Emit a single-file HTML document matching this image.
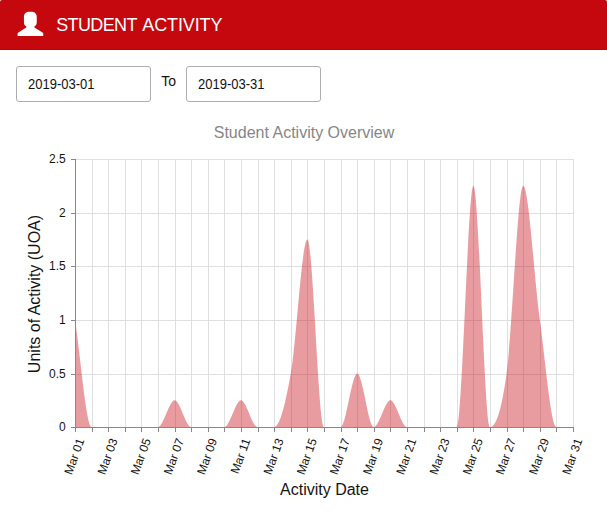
<!DOCTYPE html>
<html><head><meta charset="utf-8"><title>Student Activity</title>
<style>
html,body{margin:0;padding:0;background:#fff;}
body{width:607px;height:526px;position:relative;overflow:hidden;font-family:"Liberation Sans",sans-serif;}
.hdr{position:absolute;left:0;top:0;width:607px;height:49px;background:#c5070e;border-bottom:1px solid #ba060d;border-radius:2px 2px 0 0;}
.hdr .t{position:absolute;top:14px;color:#fff;font-size:18px;line-height:22px;white-space:nowrap;}
.hdr svg{position:absolute;left:0;top:0;}
.inp{position:absolute;top:66px;width:133px;height:34px;border:1px solid #adadad;border-radius:3px;background:#fff;}
.inp span{position:absolute;left:11px;top:10px;font-size:13px;line-height:15px;color:#111;transform:scaleY(1.09);transform-origin:0 12px;}
.to{position:absolute;left:161.2px;top:73px;font-size:14px;line-height:16px;color:#111;}
svg.chart{position:absolute;left:0;top:0;}
.tk{font-size:12px;fill:#141414;font-family:"Liberation Sans",sans-serif;}
.ax{font-size:16px;fill:#141414;font-family:"Liberation Sans",sans-serif;}
.ttl{font-size:16px;fill:#868686;font-family:"Liberation Sans",sans-serif;}
</style></head><body>
<div class="hdr">
<svg width="60" height="49" viewBox="0 0 60 49"><path d="M29 11.7 L31.7 11.7 C34.8 11.7 36.75 13.9 36.75 16.9 L36.75 22.4 C36.75 24.3 35.8 25.6 34.4 26.5 L34.4 27.6 L42.5 32.5 C43.05 32.85 43.25 33.3 43.25 34 L43.25 36 L17.6 36 L17.6 34 C17.6 33.3 17.8 32.85 18.35 32.5 L26.3 27.6 L26.3 26.5 C24.9 25.6 23.95 24.3 23.95 22.4 L23.95 16.9 C23.95 13.9 25.9 11.7 29 11.7 Z" fill="#fff"/></svg>
<div class="t" id="w1" style="left:56.2px;letter-spacing:-0.62px">STUDENT</div><div class="t" id="w2" style="left:142.3px;letter-spacing:-0.12px">ACTIVITY</div>
</div>
<div class="inp" style="left:16px"><span>2019-03-01</span></div>
<div class="to">To</div>
<div class="inp" style="left:186px"><span>2019-03-31</span></div>
<svg class="chart" width="607" height="526" viewBox="0 0 607 526" shape-rendering="crispEdges">
<g shape-rendering="crispEdges">
<line x1="75.5" y1="374.5" x2="574.0" y2="374.5" stroke="#dfdfdf"/>
<line x1="75.5" y1="320.5" x2="574.0" y2="320.5" stroke="#dfdfdf"/>
<line x1="75.5" y1="266.5" x2="574.0" y2="266.5" stroke="#dfdfdf"/>
<line x1="75.5" y1="213.5" x2="574.0" y2="213.5" stroke="#dfdfdf"/>
<line x1="75.5" y1="159.5" x2="574.0" y2="159.5" stroke="#dfdfdf"/>
<line x1="92.5" y1="159.0" x2="92.5" y2="427.5" stroke="#dfdfdf"/>
<line x1="108.5" y1="159.0" x2="108.5" y2="427.5" stroke="#dfdfdf"/>
<line x1="125.5" y1="159.0" x2="125.5" y2="427.5" stroke="#dfdfdf"/>
<line x1="141.5" y1="159.0" x2="141.5" y2="427.5" stroke="#dfdfdf"/>
<line x1="158.5" y1="159.0" x2="158.5" y2="427.5" stroke="#dfdfdf"/>
<line x1="175.5" y1="159.0" x2="175.5" y2="427.5" stroke="#dfdfdf"/>
<line x1="191.5" y1="159.0" x2="191.5" y2="427.5" stroke="#dfdfdf"/>
<line x1="208.5" y1="159.0" x2="208.5" y2="427.5" stroke="#dfdfdf"/>
<line x1="224.5" y1="159.0" x2="224.5" y2="427.5" stroke="#dfdfdf"/>
<line x1="241.5" y1="159.0" x2="241.5" y2="427.5" stroke="#dfdfdf"/>
<line x1="258.5" y1="159.0" x2="258.5" y2="427.5" stroke="#dfdfdf"/>
<line x1="274.5" y1="159.0" x2="274.5" y2="427.5" stroke="#dfdfdf"/>
<line x1="291.5" y1="159.0" x2="291.5" y2="427.5" stroke="#dfdfdf"/>
<line x1="307.5" y1="159.0" x2="307.5" y2="427.5" stroke="#dfdfdf"/>
<line x1="324.5" y1="159.0" x2="324.5" y2="427.5" stroke="#dfdfdf"/>
<line x1="341.5" y1="159.0" x2="341.5" y2="427.5" stroke="#dfdfdf"/>
<line x1="357.5" y1="159.0" x2="357.5" y2="427.5" stroke="#dfdfdf"/>
<line x1="374.5" y1="159.0" x2="374.5" y2="427.5" stroke="#dfdfdf"/>
<line x1="390.5" y1="159.0" x2="390.5" y2="427.5" stroke="#dfdfdf"/>
<line x1="407.5" y1="159.0" x2="407.5" y2="427.5" stroke="#dfdfdf"/>
<line x1="424.5" y1="159.0" x2="424.5" y2="427.5" stroke="#dfdfdf"/>
<line x1="440.5" y1="159.0" x2="440.5" y2="427.5" stroke="#dfdfdf"/>
<line x1="457.5" y1="159.0" x2="457.5" y2="427.5" stroke="#dfdfdf"/>
<line x1="473.5" y1="159.0" x2="473.5" y2="427.5" stroke="#dfdfdf"/>
<line x1="490.5" y1="159.0" x2="490.5" y2="427.5" stroke="#dfdfdf"/>
<line x1="507.5" y1="159.0" x2="507.5" y2="427.5" stroke="#dfdfdf"/>
<line x1="523.5" y1="159.0" x2="523.5" y2="427.5" stroke="#dfdfdf"/>
<line x1="540.5" y1="159.0" x2="540.5" y2="427.5" stroke="#dfdfdf"/>
<line x1="556.5" y1="159.0" x2="556.5" y2="427.5" stroke="#dfdfdf"/>
<line x1="573.5" y1="159.0" x2="573.5" y2="427.5" stroke="#dfdfdf"/>
<path shape-rendering="geometricPrecision" d="M75.00,427.00 L75.00,319.80 C80.53,355.53 86.07,427.00 91.60,427.00 C97.13,427.00 102.67,427.00 108.20,427.00 C113.73,427.00 119.27,427.00 124.80,427.00 C130.33,427.00 135.87,427.00 141.40,427.00 C146.93,427.00 152.47,427.00 158.00,427.00 C163.53,427.00 169.07,400.20 174.60,400.20 C180.13,400.20 185.67,427.00 191.20,427.00 C196.73,427.00 202.27,427.00 207.80,427.00 C213.33,427.00 218.87,427.00 224.40,427.00 C229.93,427.00 235.47,400.20 241.00,400.20 C246.53,400.20 252.07,427.00 257.60,427.00 C263.13,427.00 268.67,427.00 274.20,427.00 C279.73,427.00 285.27,404.67 290.80,373.40 C296.33,342.13 301.87,239.40 307.40,239.40 C312.93,239.40 318.47,427.00 324.00,427.00 C329.53,427.00 335.07,427.00 340.60,427.00 C346.13,427.00 351.67,373.40 357.20,373.40 C362.73,373.40 368.27,427.00 373.80,427.00 C379.33,427.00 384.87,400.20 390.40,400.20 C395.93,400.20 401.47,427.00 407.00,427.00 C412.53,427.00 418.07,427.00 423.60,427.00 C429.13,427.00 434.67,427.00 440.20,427.00 C445.73,427.00 451.27,427.00 456.80,427.00 C462.33,427.00 467.87,185.80 473.40,185.80 C478.93,185.80 484.47,427.00 490.00,427.00 C495.53,427.00 501.07,413.60 506.60,373.40 C512.13,333.20 517.67,185.80 523.20,185.80 C528.73,185.80 534.27,279.60 539.80,319.80 C545.33,360.00 550.87,427.00 556.40,427.00 C561.93,427.00 567.47,427.00 573.00,427.00 L573.00,427.00 Z" fill="rgba(198,8,15,0.4)"/>
<line x1="75.5" y1="427.5" x2="574.0" y2="427.5" stroke="#888888"/>
<line x1="71.0" y1="427.5" x2="75.5" y2="427.5" stroke="#888888"/>
<line x1="71.0" y1="374.5" x2="75.5" y2="374.5" stroke="#888888"/>
<line x1="71.0" y1="320.5" x2="75.5" y2="320.5" stroke="#888888"/>
<line x1="71.0" y1="266.5" x2="75.5" y2="266.5" stroke="#888888"/>
<line x1="71.0" y1="213.5" x2="75.5" y2="213.5" stroke="#888888"/>
<line x1="71.0" y1="159.5" x2="75.5" y2="159.5" stroke="#888888"/>
<line x1="75.5" y1="159.0" x2="75.5" y2="427.5" stroke="#888888"/>
<line x1="75.5" y1="427.5" x2="75.5" y2="432.0" stroke="#888888"/>
<line x1="92.5" y1="427.5" x2="92.5" y2="432.0" stroke="#888888"/>
<line x1="108.5" y1="427.5" x2="108.5" y2="432.0" stroke="#888888"/>
<line x1="125.5" y1="427.5" x2="125.5" y2="432.0" stroke="#888888"/>
<line x1="141.5" y1="427.5" x2="141.5" y2="432.0" stroke="#888888"/>
<line x1="158.5" y1="427.5" x2="158.5" y2="432.0" stroke="#888888"/>
<line x1="175.5" y1="427.5" x2="175.5" y2="432.0" stroke="#888888"/>
<line x1="191.5" y1="427.5" x2="191.5" y2="432.0" stroke="#888888"/>
<line x1="208.5" y1="427.5" x2="208.5" y2="432.0" stroke="#888888"/>
<line x1="224.5" y1="427.5" x2="224.5" y2="432.0" stroke="#888888"/>
<line x1="241.5" y1="427.5" x2="241.5" y2="432.0" stroke="#888888"/>
<line x1="258.5" y1="427.5" x2="258.5" y2="432.0" stroke="#888888"/>
<line x1="274.5" y1="427.5" x2="274.5" y2="432.0" stroke="#888888"/>
<line x1="291.5" y1="427.5" x2="291.5" y2="432.0" stroke="#888888"/>
<line x1="307.5" y1="427.5" x2="307.5" y2="432.0" stroke="#888888"/>
<line x1="324.5" y1="427.5" x2="324.5" y2="432.0" stroke="#888888"/>
<line x1="341.5" y1="427.5" x2="341.5" y2="432.0" stroke="#888888"/>
<line x1="357.5" y1="427.5" x2="357.5" y2="432.0" stroke="#888888"/>
<line x1="374.5" y1="427.5" x2="374.5" y2="432.0" stroke="#888888"/>
<line x1="390.5" y1="427.5" x2="390.5" y2="432.0" stroke="#888888"/>
<line x1="407.5" y1="427.5" x2="407.5" y2="432.0" stroke="#888888"/>
<line x1="424.5" y1="427.5" x2="424.5" y2="432.0" stroke="#888888"/>
<line x1="440.5" y1="427.5" x2="440.5" y2="432.0" stroke="#888888"/>
<line x1="457.5" y1="427.5" x2="457.5" y2="432.0" stroke="#888888"/>
<line x1="473.5" y1="427.5" x2="473.5" y2="432.0" stroke="#888888"/>
<line x1="490.5" y1="427.5" x2="490.5" y2="432.0" stroke="#888888"/>
<line x1="507.5" y1="427.5" x2="507.5" y2="432.0" stroke="#888888"/>
<line x1="523.5" y1="427.5" x2="523.5" y2="432.0" stroke="#888888"/>
<line x1="540.5" y1="427.5" x2="540.5" y2="432.0" stroke="#888888"/>
<line x1="556.5" y1="427.5" x2="556.5" y2="432.0" stroke="#888888"/>
<line x1="573.5" y1="427.5" x2="573.5" y2="432.0" stroke="#888888"/>
<text x="65.7" y="431.0" text-anchor="end" class="tk">0</text>
<text x="65.7" y="378.0" text-anchor="end" class="tk">0.5</text>
<text x="65.7" y="324.0" text-anchor="end" class="tk">1</text>
<text x="65.7" y="270.0" text-anchor="end" class="tk">1.5</text>
<text x="65.7" y="217.0" text-anchor="end" class="tk">2</text>
<text x="65.7" y="163.0" text-anchor="end" class="tk">2.5</text>
<text transform="translate(80.50,438.80) rotate(-70)" text-anchor="end" class="tk" y="4.3">Mar 01</text>
<text transform="translate(113.70,438.80) rotate(-70)" text-anchor="end" class="tk" y="4.3">Mar 03</text>
<text transform="translate(146.90,438.80) rotate(-70)" text-anchor="end" class="tk" y="4.3">Mar 05</text>
<text transform="translate(180.10,438.80) rotate(-70)" text-anchor="end" class="tk" y="4.3">Mar 07</text>
<text transform="translate(213.30,438.80) rotate(-70)" text-anchor="end" class="tk" y="4.3">Mar 09</text>
<text transform="translate(246.50,438.80) rotate(-70)" text-anchor="end" class="tk" y="4.3">Mar 11</text>
<text transform="translate(279.70,438.80) rotate(-70)" text-anchor="end" class="tk" y="4.3">Mar 13</text>
<text transform="translate(312.90,438.80) rotate(-70)" text-anchor="end" class="tk" y="4.3">Mar 15</text>
<text transform="translate(346.10,438.80) rotate(-70)" text-anchor="end" class="tk" y="4.3">Mar 17</text>
<text transform="translate(379.30,438.80) rotate(-70)" text-anchor="end" class="tk" y="4.3">Mar 19</text>
<text transform="translate(412.50,438.80) rotate(-70)" text-anchor="end" class="tk" y="4.3">Mar 21</text>
<text transform="translate(445.70,438.80) rotate(-70)" text-anchor="end" class="tk" y="4.3">Mar 23</text>
<text transform="translate(478.90,438.80) rotate(-70)" text-anchor="end" class="tk" y="4.3">Mar 25</text>
<text transform="translate(512.10,438.80) rotate(-70)" text-anchor="end" class="tk" y="4.3">Mar 27</text>
<text transform="translate(545.30,438.80) rotate(-70)" text-anchor="end" class="tk" y="4.3">Mar 29</text>
<text transform="translate(578.50,438.80) rotate(-70)" text-anchor="end" class="tk" y="4.3">Mar 31</text>
<text x="324.5" y="495" text-anchor="middle" class="ax">Activity Date</text>
<text transform="translate(40,294) rotate(-90)" text-anchor="middle" class="ax">Units of Activity (UOA)</text>
<text x="304" y="137.5" text-anchor="middle" class="ttl">Student Activity Overview</text>
</g>
</svg>
</body></html>
